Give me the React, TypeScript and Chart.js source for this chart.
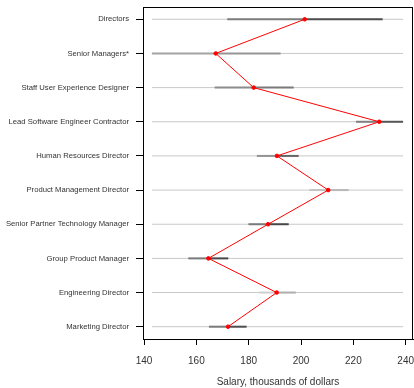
import React, { useEffect, useRef } from "react";
import { Chart, registerables } from "chart.js";

Chart.register(...registerables);

const categories = [
  "Directors",
  "Senior Managers*",
  "Staff User Experience Designer",
  "Lead Software Engineer Contractor",
  "Human Resources Director",
  "Product Management Director",
  "Senior Partner Technology Manager",
  "Group Product Manager",
  "Engineering Director",
  "Marketing Director",
];
const salaries = [201.4, 167.4, 181.9, 229.9, 190.8, 210.4, 187.4, 164.6, 190.7, 172.1];
const lows = [171.8, 143.0, 167.0, 221.0, 183.1, 203.2, 179.9, 156.9, 184.1, 164.8];
const highs = [231.2, 192.2, 197.2, 239.0, 199.1, 218.2, 195.3, 172.2, 198.0, 179.2];
const xTicks = [140, 160, 180, 200, 220, 240];

// styles (not data)
const lowColors = ["#7d7d7d", "#a3a3a3", "#8c8c8c", "#808080", "#939393", "#c2c2c2", "#7a7a7a", "#7a7a7a", "#cfcfcf", "#7a7a7a"];
const highColors = ["#4d4d4d", "#959595", "#7a7a7a", "#565656", "#666666", "#b8b8b8", "#484848", "#484848", "#adadad", "#4e4e4e"];

const FONT = "'Liberation Sans', Arial, sans-serif";

const boxPlugin = {
  id: "box",
  afterDraw(chart: any) {
    const { ctx, chartArea } = chart;
    ctx.save();
    ctx.strokeStyle = "#000";
    ctx.lineWidth = 1;
    ctx.strokeRect(
      Math.round(chartArea.left) + 0.5,
      Math.round(chartArea.top) + 0.5,
      Math.round(chartArea.right - chartArea.left) - 1,
      Math.round(chartArea.bottom - chartArea.top)
    );
    ctx.restore();
  },
};

export default function App() {
  const ref = useRef<HTMLCanvasElement | null>(null);

  useEffect(() => {
    document.body.style.margin = "0";
    const canvas = ref.current;
    if (!canvas) return;
    const refMin = Math.min(...lows);
    const refMax = Math.max(...highs);

    const datasets: any[] = [];
    datasets.push({
      data: salaries.map((v, i) => ({ x: v, y: i + 1 })),
      showLine: true,
      borderColor: "#ff0000",
      backgroundColor: "#ff0000",
      borderWidth: 1,
      pointRadius: 1.8,
      pointBorderWidth: 1,
      order: 0,
    });
    categories.forEach((_, i) => {
      datasets.push({
        data: [
          { x: lows[i], y: i + 1 },
          { x: salaries[i], y: i + 1 },
        ],
        showLine: true,
        borderColor: lowColors[i],
        borderWidth: 2,
        pointRadius: 0,
        order: 1,
      });
      datasets.push({
        data: [
          { x: salaries[i], y: i + 1 },
          { x: highs[i], y: i + 1 },
        ],
        showLine: true,
        borderColor: highColors[i],
        borderWidth: 2,
        pointRadius: 0,
        order: 1,
      });
      datasets.push({
        data: [
          { x: refMin, y: i + 1 },
          { x: refMax, y: i + 1 },
        ],
        showLine: true,
        borderColor: "#c8c8c8",
        borderWidth: 1,
        pointRadius: 0,
        order: 2,
      });
    });

    const chart = new Chart(canvas, {
      type: "scatter",
      data: { datasets },
      plugins: [boxPlugin],
      options: {
        animation: false,
        responsive: false,
        layout: { padding: { top: 7, right: 1, left: 0, bottom: 0 } },
        plugins: { legend: { display: false }, tooltip: { enabled: false } },
        scales: {
          x: {
            type: "linear",
            min: 139.6,
            max: 242.8,
            afterBuildTicks: (axis: any) => {
              axis.ticks = xTicks.map((v) => ({ value: v }));
            },
            afterFit: (axis: any) => {
              axis.height = 49;
              axis.paddingLeft = 0;
              axis.paddingRight = 0;
            },
            grid: {
              drawOnChartArea: false,
              drawTicks: true,
              tickLength: 6,
              tickColor: "#000",
              color: "#000",
            },
            border: { display: true, color: "#000" },
            ticks: {
              color: "#333",
              font: { family: FONT, size: 10 },
              padding: 10,
              maxRotation: 0,
              callback: (v: any) => String(v),
            },
            title: {
              display: true,
              text: "Salary, thousands of dollars",
              color: "#333",
              font: { family: FONT, size: 10 },
              padding: { top: 1, bottom: 0 },
            },
          },
          y: {
            type: "linear",
            reverse: true,
            min: 0.64,
            max: 10.36,
            afterBuildTicks: (axis: any) => {
              axis.ticks = categories.map((_, i) => ({ value: i + 1 }));
            },
            afterFit: (axis: any) => {
              axis.width = 143;
              axis.paddingTop = 0;
              axis.paddingBottom = 0;
            },
            grid: {
              drawOnChartArea: false,
              drawTicks: true,
              tickLength: 7,
              tickColor: "#000",
              color: "#000",
            },
            border: { display: true, color: "#000" },
            ticks: {
              color: "#333",
              font: { family: FONT, size: 7.7 },
              padding: 7,
              autoSkip: false,
              callback: (v: any) => categories[Math.round(v) - 1] ?? "",
            },
          },
        },
      },
    } as any);
    return () => chart.destroy();
  }, []);

  return (
    <div style={{ width: 414, height: 388, overflow: "hidden" }}>
      <canvas ref={ref} width={418} height={388} style={{ display: "block" }} />
    </div>
  );
}
